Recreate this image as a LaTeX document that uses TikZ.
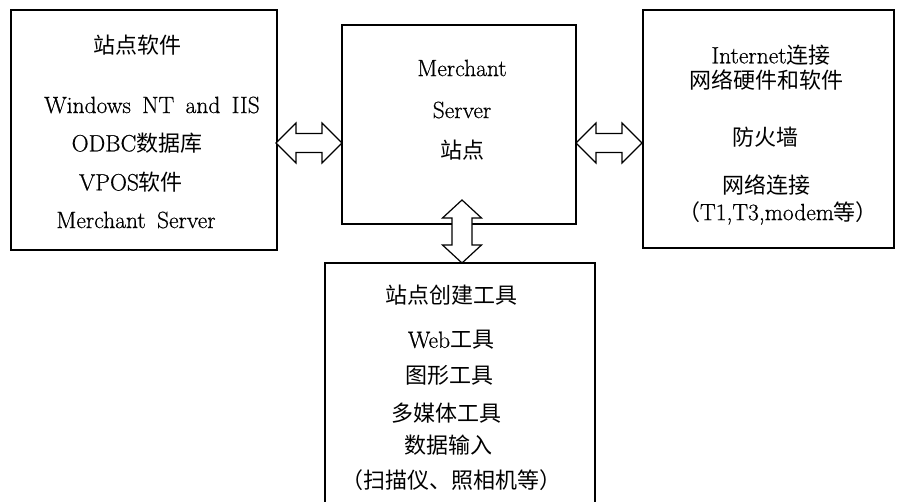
\documentclass[tikz,border=0pt]{standalone}
\usepackage{fontspec}
\newfontfamily\cjk{Noto Sans CJK SC}
\newfontfamily\lat[FakeBold=0.6,WordSpace=1.6]{Latin Modern Roman}
\newcommand\zh[1]{{\fontsize{22}{26}\cjk #1}}
\begin{document}
\begin{tikzpicture}[x=1pt,y=-1pt,
  box/.style={draw, line width=1.2pt, fill=white},
  t/.style={inner sep=0pt, font=\fontsize{23.5}{27}\lat},
  barrow/.style={draw, line width=1.2pt, fill=white, line join=miter}]
\useasboundingbox (0,0) rectangle (902,502);
\clip (0,0) rectangle (902,502);
% boxes
\draw[box] (11,10) rectangle (277,250);
\node[inner sep=0] (L) at (144,130) {};
\draw[box] (342,25) rectangle (576,224);
\node[inner sep=0] (C) at (459,124.5) {};
\draw[box] (643,10) rectangle (894,248);
\node[inner sep=0] (R) at (768.5,129) {};
\draw[box] (325,263) rectangle (595,520);
\node[inner sep=0] (B) at (460,390) {};
% left box text
\node[t] (l1) at (137,45) {\zh{站点软件}};
\node[t] (l2) at (152,105) {Windows NT and IIS};
\node[t] (l3) at (137,143) {ODBC\zh{数据库}};
\node[t] (l4) at (131,182) {VPOS\zh{软件}};
\node[t] (l5) at (136,220) {Merchant Server};
% center box text
\node[t] (c1) at (462,68) {Merchant};
\node[t] (c2) at (462,110) {Server};
\node[t] (c3) at (462,150) {\zh{站点}};
% right box text
\node[t] (r1) at (771,55) {Internet\zh{连接}};
\node[t] (r2) at (766,80) {\zh{网络硬件和软件}};
\node[t] (r3) at (765,137) {\zh{防火墙}};
\node[t] (r4) at (766,185) {\zh{网络连接}};
\node[t] (r5) at (778,213) {\zh{（}T1,T3,modem\zh{等）}};
% bottom box text
\node[t] (b1) at (451,295) {\zh{站点创建工具}};
\node[t] (b2) at (451,340) {Web\zh{工具}};
\node[t] (b3) at (449,375) {\zh{图形工具}};
\node[t] (b4) at (446,413) {\zh{多媒体工具}};
\node[t] (b5) at (448,445) {\zh{数据输入}};
\node[t] (b6) at (451,480) {\zh{（扫描仪、照相机等）}};
% block arrows
\coordinate (a1) at (276,143);
\draw[barrow] (a1) -- ++(20,-20) -- ++(0,10.5) -- ++(26,0) -- ++(0,-10.5)
  -- ++(20,20) -- ++(-20,20) -- ++(0,-10.5) -- ++(-26,0) -- ++(0,10.5) -- cycle;
\coordinate (a2) at (576,143);
\draw[barrow] (a2) -- ++(20,-20) -- ++(0,10.5) -- ++(26,0) -- ++(0,-10.5)
  -- ++(20,20) -- ++(-20,20) -- ++(0,-10.5) -- ++(-26,0) -- ++(0,10.5) -- cycle;
\coordinate (a3) at (462,200);
\draw[barrow] (a3) -- ++(19.5,18) -- ++(-9.5,0) -- ++(0,27) -- ++(9.5,0)
  -- ++(-19.5,18) -- ++(-19.5,-18) -- ++(9.5,0) -- ++(0,-27) -- ++(-9.5,0) -- cycle;
\end{tikzpicture}
\end{document}
